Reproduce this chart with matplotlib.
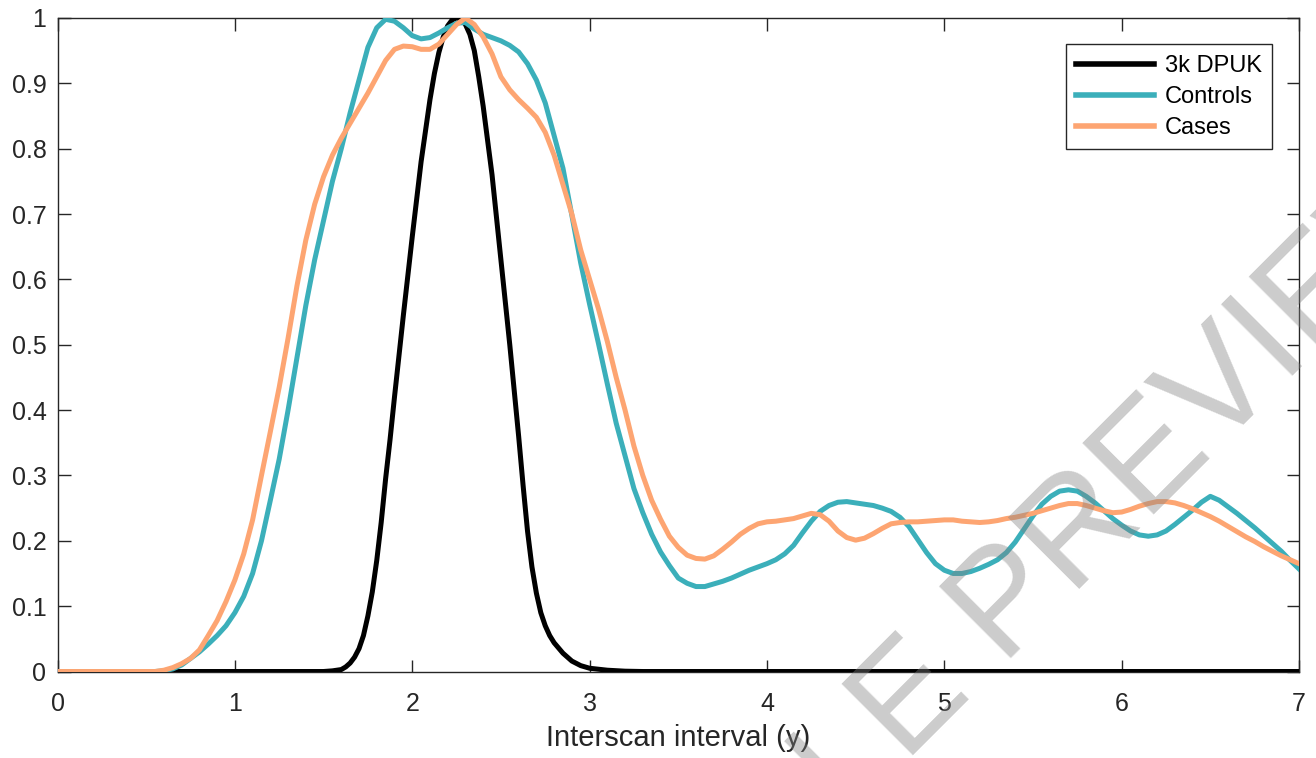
import matplotlib
matplotlib.use("Agg")
import matplotlib.pyplot as plt

plt.rcParams['font.family'] = ['Liberation Sans', 'DejaVu Sans']

# ---- data ----
dpuk_x = [0, 1.5, 1.55, 1.6, 1.625, 1.65, 1.675, 1.7, 1.725, 1.75, 1.775, 1.8, 1.825,
          1.85, 1.875, 1.9, 1.95, 2.0, 2.05, 2.1, 2.125, 2.15, 2.175, 2.2, 2.225, 2.25,
          2.275, 2.3, 2.325, 2.35, 2.375, 2.4, 2.45, 2.5, 2.55, 2.6, 2.625, 2.65, 2.675,
          2.7, 2.725, 2.75, 2.775, 2.8, 2.85, 2.9, 2.95, 3.0, 3.1, 3.2, 3.3, 7.0]
dpuk_y = [0, 0, 0.001, 0.003, 0.007, 0.013, 0.022, 0.035, 0.055, 0.085, 0.122, 0.17, 0.228,
          0.295, 0.355, 0.42, 0.545, 0.665, 0.78, 0.875, 0.915, 0.947, 0.971, 0.988, 0.997,
          1.0, 0.998, 0.99, 0.975, 0.95, 0.91, 0.865, 0.76, 0.63, 0.50, 0.36, 0.285, 0.215,
          0.16, 0.12, 0.09, 0.07, 0.055, 0.044, 0.028, 0.016, 0.009, 0.005, 0.002, 0.0005,
          0, 0]

interval_x = [0, 0.55,
              0.6, 0.65, 0.7, 0.75, 0.8, 0.85, 0.9, 0.95,
              1.0, 1.05, 1.1, 1.15, 1.2, 1.25, 1.3, 1.35, 1.4, 1.45,
              1.5, 1.55, 1.6, 1.65, 1.7, 1.75, 1.8, 1.85, 1.9, 1.95,
              2.0, 2.05, 2.1, 2.15, 2.2, 2.25, 2.3, 2.35, 2.4, 2.45,
              2.5, 2.55, 2.6, 2.65, 2.7, 2.75, 2.8, 2.85, 2.9, 2.95,
              3.0, 3.05, 3.1, 3.15, 3.2, 3.25, 3.3, 3.35, 3.4, 3.45,
              3.5, 3.55, 3.6, 3.65, 3.7, 3.75, 3.8, 3.85, 3.9, 3.95,
              4.0, 4.05, 4.1, 4.15, 4.2, 4.25, 4.3, 4.35, 4.4, 4.45,
              4.5, 4.55, 4.6, 4.65, 4.7, 4.75, 4.8, 4.85, 4.9, 4.95,
              5.0, 5.05, 5.1, 5.15, 5.2, 5.25, 5.3, 5.35, 5.4, 5.45,
              5.5, 5.55, 5.6, 5.65, 5.7, 5.75, 5.8, 5.85, 5.9, 5.95,
              6.0, 6.05, 6.1, 6.15, 6.2, 6.25, 6.3, 6.35, 6.4, 6.45,
              6.5, 6.55, 6.6, 6.65, 6.7, 6.75, 6.8, 6.85, 6.9, 6.95,
              7.0]

controls_y = [0, 0,
              0.001, 0.004, 0.01, 0.02, 0.03, 0.042, 0.055, 0.07,
              0.09, 0.115, 0.15, 0.2, 0.262, 0.325, 0.40, 0.48, 0.56, 0.63,
              0.69, 0.75, 0.80, 0.855, 0.905, 0.955, 0.985, 0.998, 0.995, 0.985,
              0.973, 0.968, 0.97, 0.977, 0.985, 0.992, 0.993, 0.983, 0.975, 0.97,
              0.965, 0.958, 0.948, 0.93, 0.905, 0.87, 0.82, 0.77, 0.698, 0.625,
              0.562, 0.502, 0.44, 0.38, 0.33, 0.28, 0.243, 0.21, 0.183, 0.162,
              0.143, 0.135, 0.13, 0.13, 0.134, 0.138, 0.143, 0.149, 0.155, 0.16,
              0.165, 0.171, 0.18, 0.193, 0.212, 0.23, 0.245, 0.254, 0.259, 0.26,
              0.258, 0.256, 0.254, 0.25, 0.245, 0.236, 0.222, 0.202, 0.182, 0.165,
              0.155, 0.15, 0.15, 0.153, 0.158, 0.164, 0.171, 0.182, 0.198, 0.218,
              0.238, 0.256, 0.268, 0.276, 0.278, 0.276, 0.268, 0.258, 0.246, 0.234,
              0.224, 0.215, 0.209, 0.207, 0.209, 0.215, 0.225, 0.236, 0.247, 0.259,
              0.268, 0.262, 0.252, 0.242, 0.231, 0.22, 0.208, 0.196, 0.184, 0.17,
              0.157]

cases_y = [0, 0,
           0.002, 0.006, 0.012, 0.02, 0.033, 0.055, 0.078, 0.107,
           0.14, 0.18, 0.232, 0.30, 0.367, 0.435, 0.51, 0.59, 0.66, 0.715,
           0.757, 0.79, 0.816, 0.839, 0.862, 0.885, 0.91, 0.935, 0.952, 0.957,
           0.956, 0.952, 0.952, 0.96, 0.975, 0.99, 1.0, 0.99, 0.971, 0.945,
           0.91, 0.89, 0.875, 0.862, 0.848, 0.825, 0.79, 0.745, 0.70, 0.645,
           0.60, 0.555, 0.505, 0.45, 0.40, 0.345, 0.30, 0.262, 0.233, 0.207,
           0.19, 0.178, 0.173, 0.172, 0.177, 0.187, 0.198, 0.21, 0.219, 0.226,
           0.229, 0.23, 0.232, 0.234, 0.238, 0.242, 0.24, 0.23, 0.215, 0.205,
           0.201, 0.204, 0.211, 0.219, 0.226, 0.228, 0.229, 0.229, 0.23, 0.231,
           0.232, 0.232, 0.23, 0.229, 0.228, 0.229, 0.231, 0.234, 0.236, 0.239,
           0.242, 0.246, 0.25, 0.254, 0.257, 0.257, 0.254, 0.25, 0.246, 0.243,
           0.244, 0.248, 0.253, 0.257, 0.26, 0.26, 0.258, 0.254, 0.249, 0.243,
           0.237, 0.23, 0.222, 0.214, 0.206, 0.199, 0.191, 0.184, 0.177, 0.171,
           0.165]

labels = ['3k DPUK', 'Controls', 'Cases']
colors = ['#000000', '#3BAFBA', '#FDA572']
x_ticks = [0, 1, 2, 3, 4, 5, 6, 7]
y_ticks = [0, 0.1, 0.2, 0.3, 0.4, 0.5, 0.6, 0.7, 0.8, 0.9, 1]
y_ticklabels = ['0', '0.1', '0.2', '0.3', '0.4', '0.5', '0.6', '0.7', '0.8', '0.9', '1']

fig = plt.figure(figsize=(13.16, 7.58), dpi=100)
ax = fig.add_axes([0.0437, 0.1141, 0.9434, 0.8622])

ax.plot(dpuk_x, dpuk_y, color=colors[0], lw=3.6, label=labels[0], zorder=3,
        solid_joinstyle='round')
ax.plot(interval_x, controls_y, color=colors[1], lw=3.6, label=labels[1], zorder=4,
        solid_joinstyle='round')
ax.plot(interval_x, cases_y, color=colors[2], lw=3.6, label=labels[2], zorder=5,
        solid_joinstyle='round')

ax.set_xlim(0, 7)
ax.set_ylim(0, 1)
ax.set_xticks(x_ticks)
ax.set_yticks(y_ticks)
ax.set_yticklabels(y_ticklabels)

axcol = '#262626'
for s in ax.spines.values():
    s.set_color(axcol)
    s.set_linewidth(1.0)
ax.tick_params(direction='in', length=9, width=1.0, color=axcol, labelcolor=axcol,
               top=True, right=True, labelsize=18)
ax.tick_params(axis='x', pad=14.5)
ax.tick_params(axis='y', pad=8)
ax.set_xlabel('Interscan interval (y)', fontsize=21, color=axcol, labelpad=6)

leg = ax.legend(loc='upper right', bbox_to_anchor=(0.9785, 0.9598), fontsize=17,
                frameon=True, fancybox=False, framealpha=1, edgecolor=axcol,
                handlelength=3.3, handletextpad=0.45, labelspacing=0.38,
                borderpad=0.45, borderaxespad=0)
leg.get_frame().set_linewidth(1.0)
for line in leg.get_lines():
    line.set_linewidth(4)

fig.text(0.7523, 0.1755, 'SAMPLE PREVIEW', fontsize=105,
         color=(0.5, 0.5, 0.5), alpha=0.40, rotation=45, rotation_mode='anchor',
         ha='center', va='center', zorder=10)

fig.savefig('out.png', dpi=100)
